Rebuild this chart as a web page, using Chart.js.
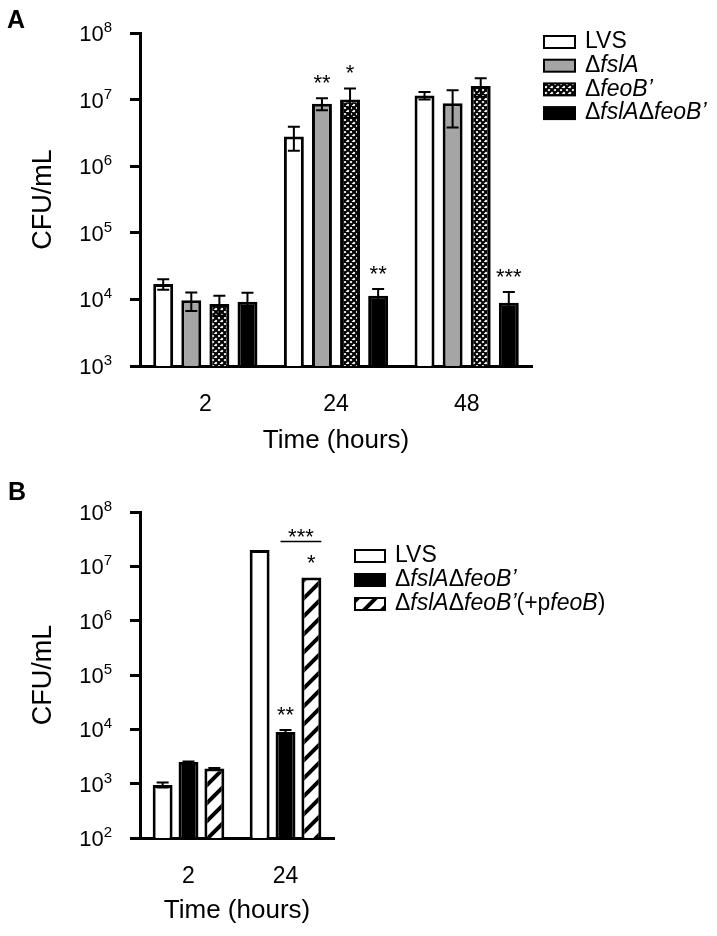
<!DOCTYPE html>
<html>
<head>
<meta charset="utf-8">
<title>CFU/mL over time</title>
<script src="https://cdn.jsdelivr.net/npm/chart.js@4.4.1/dist/chart.umd.min.js"></script>
<style>
  body { margin: 0; background: #fff; width: 717px; height: 936px; position: relative; overflow: hidden; font-family: Arial, "Liberation Sans", sans-serif; }
  canvas { position: absolute; left: 0; }
  #panelA { top: 0; }
  #panelB { top: 470px; }
  .panel-label { position: absolute; font-weight: bold; font-size: 25px; line-height: 1; }
</style>
</head>
<body>
<canvas id="panelA" width="717" height="470"></canvas>
<canvas id="panelB" width="717" height="466"></canvas>
<div class="panel-label" style="left:7px; top:7px">A</div>
<div class="panel-label" style="left:8px; top:479px">B</div>
<script>
// panel A: time points and CFU/mL per strain (mean, error)
const timesA = ['2', '24', '48']
const decadesA = [3, 4, 5, 6, 7, 8]
const lvsA = [1.7e4, 2.8e6, 1.15e7]
const lvsErrA = [3e3, 1.1e6, 1.5e6]
const fslAA = [9.7e3, 8.7e6, 8.8e6]
const fslAErrA = [3e3, 1.8e6, 5e6]
const feoBA = [8.5e3, 1.0e7, 1.6e7]
const feoBErrA = [2.8e3, 4.7e6, 5e6]
const doubleA = [9.2e3, 1.13e4, 8.9e3]
const doubleErrA = [3.4e3, 3e3, 4e3]
const fslAStarsA = ['', '**', '']
const feoBStarsA = ['', '*', '']
const doubleStarsA = ['', '**', '***']

// panel B
const timesB = ['2', '24']
const decadesB = [2, 3, 4, 5, 6, 7, 8]
const lvsB = [950, 2.0e7]
const lvsErrB = [100, 0]
const doubleB = [2.5e3, 8.9e3]
const doubleErrB = [60, 800]
const complementB = [1.9e3, 6.2e6]
const complementErrB = [50, 0]
const doubleStarsB = ['', '**']
const complementStarsB = ['', '*']

// legend texts: [text, italic]
const legendA = [
  [['LVS', false]],
  [['Δ', false], ['fslA', true]],
  [['Δ', false], ['feoB’', true]],
  [['Δ', false], ['fslA', true], ['Δ', false], ['feoB’', true]]
]
const legendB = [
  [['LVS', false]],
  [['Δ', false], ['fslA', true], ['Δ', false], ['feoB’', true]],
  [['Δ', false], ['fslA', true], ['Δ', false], ['feoB’', true], ['(+p', false], ['feoB', true], [')', false]]
]

const FONT = 'Arial, "Liberation Sans", sans-serif'
Chart.defaults.font.family = FONT
Chart.defaults.color = '#000'

function makePattern (size, width, cross) {
  const c = document.createElement('canvas')
  c.width = c.height = size
  const g = c.getContext('2d')
  g.fillStyle = '#fff'
  g.fillRect(0, 0, size, size)
  g.strokeStyle = '#000'
  g.lineWidth = width
  g.beginPath()
  // "/" lines: x + y = 0, size, 2*size
  for (let k = 0; k <= 2; k++) {
    g.moveTo(-size, k * size + size)
    g.lineTo(k * size + size, -size)
  }
  if (cross) {
    // "\" lines: x - y = -size, 0, size
    for (let k = -1; k <= 1; k++) {
      g.moveTo(k * size - size, -size)
      g.lineTo(k * size + 2 * size, 2 * size)
    }
  }
  g.stroke()
  return g.createPattern(c, 'repeat')
}

const crossHatch = makePattern(6, 2.2, true)
const stripes = makePattern(18, 4, false)

const figurePlugin = {
  id: 'figure',
  afterDatasetsDraw (chart, args, opts) {
    const ctx = chart.ctx
    const yScale = chart.scales.y
    const starY = {}
    ctx.save()
    chart.data.datasets.forEach((ds, di) => {
      const meta = chart.getDatasetMeta(di)
      meta.data.forEach((bar, i) => {
        const v = ds.data[i]
        const err = ds.errors ? ds.errors[i] : 0
        let top = bar.y
        if (err) {
          const hi = yScale.getPixelForValue(v + err)
          const lo = yScale.getPixelForValue(v - err)
          ctx.strokeStyle = '#000'
          ctx.lineWidth = 2
          ctx.beginPath()
          ctx.moveTo(bar.x, hi)
          ctx.lineTo(bar.x, lo)
          ctx.moveTo(bar.x - 6, hi)
          ctx.lineTo(bar.x + 6, hi)
          ctx.moveTo(bar.x - 6, lo)
          ctx.lineTo(bar.x + 6, lo)
          ctx.stroke()
          top = hi
        }
        if (ds.stars && ds.stars[i]) {
          ctx.fillStyle = '#000'
          ctx.font = '22px ' + FONT
          ctx.textAlign = 'center'
          ctx.textBaseline = 'alphabetic'
          ctx.fillText(ds.stars[i], bar.x, top - 8)
          starY[di + ':' + i] = top - 8
        }
      })
    })
    const br = opts.bracket
    if (br) {
      const b1 = chart.getDatasetMeta(br.from).data[br.index]
      const b2 = chart.getDatasetMeta(br.to).data[br.index]
      const y = (starY[br.to + ':' + br.index] || b2.y) - 28
      const x1 = b1.x - b1.width / 4
      const x2 = b2.x + b2.width / 2
      ctx.strokeStyle = '#000'
      ctx.lineWidth = 1.5
      ctx.beginPath()
      ctx.moveTo(x1, y)
      ctx.lineTo(x2, y)
      ctx.stroke()
      ctx.font = '22px ' + FONT
      ctx.textAlign = 'center'
      ctx.fillText(br.label, (x1 + x2) / 2, y + 2)
    }
    ctx.restore()
  },
  afterDraw (chart, args, opts) {
    const ctx = chart.ctx
    const yScale = chart.scales.y
    ctx.save()
    ctx.fillStyle = '#000'
    ctx.textBaseline = 'alphabetic'
    // log tick labels as 10 with superscript exponent
    yScale.ticks.forEach(t => {
      const py = yScale.getPixelForValue(t.value)
      const exp = String(Math.round(Math.log10(t.value)))
      ctx.font = '15px ' + FONT
      ctx.textAlign = 'right'
      ctx.fillText(exp, opts.labelRight, py - 1)
      const w = ctx.measureText(exp).width
      ctx.font = '22px ' + FONT
      ctx.fillText('10', opts.labelRight - w, py + 8)
    })
    // legend
    const lg = opts.legend
    lg.items.forEach((segs, k) => {
      const cy = lg.y + k * lg.gap
      const ds = chart.data.datasets[k]
      ctx.fillStyle = ds.backgroundColor
      ctx.fillRect(lg.x, cy - 6, lg.w, 12)
      ctx.strokeStyle = '#000'
      ctx.lineWidth = 2
      ctx.strokeRect(lg.x, cy - 6, lg.w, 12)
      ctx.fillStyle = '#000'
      ctx.textAlign = 'left'
      ctx.textBaseline = 'middle'
      let tx = lg.x + lg.w + 10
      segs.forEach(([txt, italic]) => {
        ctx.font = (italic ? 'italic ' : '') + '23px ' + FONT
        ctx.fillText(txt, tx, cy)
        tx += ctx.measureText(txt).width
      })
    })
    ctx.restore()
  }
}

function axes (decades, xHeight, titleBottom) {
  return {
    x: {
      grid: { display: false, drawTicks: false },
      border: { display: true, color: '#000', width: 3 },
      ticks: { color: '#000', font: { size: 23 }, padding: 25, maxRotation: 0 },
      title: { display: true, text: 'Time (hours)', color: '#000', font: { size: 26 }, padding: { top: 0, bottom: titleBottom } },
      afterFit: s => { s.height = xHeight }
    },
    y: {
      type: 'logarithmic',
      min: 10 ** decades[0],
      max: 10 ** decades[decades.length - 1],
      grid: { display: true, drawOnChartArea: false, drawTicks: true, tickLength: 10, color: '#000', lineWidth: 3 },
      border: { display: true, color: '#000', width: 3 },
      ticks: { display: false },
      afterBuildTicks: s => { s.ticks = decades.map(e => ({ value: 10 ** e })) },
      title: { display: true, text: 'CFU/mL', color: '#000', font: { size: 27 }, padding: { top: 27, bottom: 0 } },
      afterFit: s => { s.width = 140 }
    }
  }
}

new Chart(document.getElementById('panelA'), {
  type: 'bar',
  data: {
    labels: timesA,
    datasets: [
      { label: 'LVS', data: lvsA, errors: lvsErrA, backgroundColor: '#fff' },
      { label: 'ΔfslA', data: fslAA, errors: fslAErrA, stars: fslAStarsA, backgroundColor: '#a5a5a5' },
      { label: 'ΔfeoB’', data: feoBA, errors: feoBErrA, stars: feoBStarsA, backgroundColor: crossHatch },
      { label: 'ΔfslAΔfeoB’', data: doubleA, errors: doubleErrA, stars: doubleStarsA, backgroundColor: '#000' }
    ]
  },
  options: {
    responsive: false,
    animation: false,
    devicePixelRatio: 1,
    layout: { padding: { top: 33, right: 185, bottom: 0, left: 0 } },
    datasets: { bar: { borderColor: '#000', borderWidth: 3, categoryPercentage: 0.86, barPercentage: 0.71 } },
    plugins: {
      legend: { display: false },
      tooltip: { enabled: false },
      figure: { labelRight: 112, legend: { x: 544, y: 42, gap: 23.7, w: 31, items: legendA } }
    },
    scales: axes(decadesA, 104, 14)
  },
  plugins: [figurePlugin]
})

new Chart(document.getElementById('panelB'), {
  type: 'bar',
  data: {
    labels: timesB,
    datasets: [
      { label: 'LVS', data: lvsB, errors: lvsErrB, backgroundColor: '#fff' },
      { label: 'ΔfslAΔfeoB’', data: doubleB, errors: doubleErrB, stars: doubleStarsB, backgroundColor: '#000' },
      { label: 'ΔfslAΔfeoB’(+pfeoB)', data: complementB, errors: complementErrB, stars: complementStarsB, backgroundColor: stripes }
    ]
  },
  options: {
    responsive: false,
    animation: false,
    devicePixelRatio: 1,
    layout: { padding: { top: 42, right: 383, bottom: 0, left: 0 } },
    datasets: { bar: { borderColor: '#000', borderWidth: 3, categoryPercentage: 0.8, barPercentage: 0.77 } },
    plugins: {
      legend: { display: false },
      tooltip: { enabled: false },
      figure: {
        labelRight: 112,
        legend: { x: 355, y: 86, gap: 24, w: 30, items: legendB },
        bracket: { from: 1, to: 2, index: 1, label: '***' }
      }
    },
    scales: axes(decadesB, 98, 10)
  },
  plugins: [figurePlugin]
})
</script>
</body>
</html>
